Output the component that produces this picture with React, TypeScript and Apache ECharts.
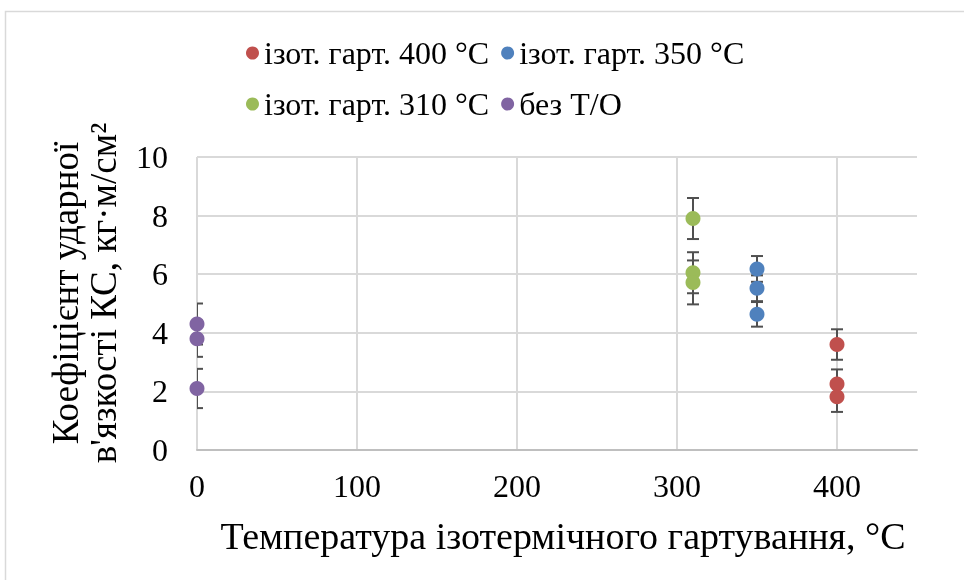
import React, { useEffect, useRef } from 'react';
import * as echarts from 'echarts';

// Series labels and the quench temperature each group was tested at
const seriesNames = ['ізот. гарт. 400 °C', 'ізот. гарт. 350 °C', 'ізот. гарт. 310 °C', 'без Т/О'];
const seriesTemps = [400, 350, 310, 0];
const seriesColors = ['#C0504D', '#4F81BD', '#9BBB59', '#8064A2'];

// Impact toughness KC, кг·м/см², and its error (±) for each specimen
const kc400 = [3.6, 2.25, 1.82];
const err400 = [0.52, 0.5, 0.52];
const kc350 = [6.18, 5.52, 4.63];
const err350 = [0.44, 0.44, 0.42];
const kc310 = [7.9, 6.05, 5.72];
const err310 = [0.7, 0.7, 0.75];
const kcRaw = [4.3, 3.8, 2.1];
const errRaw = [0.7, 0.62, 0.67];

const kcValues = [kc400, kc350, kc310, kcRaw];
const kcErrors = [err400, err350, err310, errRaw];

const xTitle = 'Температура ізотермічного гартування, °C';
const yTitle = 'Коефіцієнт ударної\nв\'язкості КС, кг·м/см²';

const FONT = 'Liberation Serif';

export default function App() {
  const ref = useRef<HTMLDivElement>(null);

  useEffect(() => {
    if (!ref.current) return;
    document.body.style.margin = '0';
    const chart = echarts.init(ref.current, null, { renderer: 'svg' });

    const scatterSeries = seriesNames.map((name, i) => ({
      type: 'scatter',
      name,
      z: 3,
      symbol: 'circle',
      symbolSize: 15,
      itemStyle: { color: seriesColors[i], opacity: 1 },
      data: kcValues[i].map((v) => [seriesTemps[i], v]),
    }));

    const errorData: number[][] = [];
    seriesNames.forEach((_, i) => {
      kcValues[i].forEach((v, j) => {
        errorData.push([seriesTemps[i], v - kcErrors[i][j], v + kcErrors[i][j]]);
      });
    });

    const errorSeries = {
      type: 'custom',
      name: 'errors',
      z: 2,
      clip: true,
      silent: true,
      data: errorData,
      encode: { x: 0, y: [1, 2] },
      renderItem: (params: any, api: any) => {
        const x = api.value(0);
        const lo = api.coord([x, api.value(1)]);
        const hi = api.coord([x, api.value(2)]);
        const half = 6;
        const style = { stroke: '#505050', lineWidth: 2 };
        const cs = params.coordSys;
        return {
          type: 'group',
          clipPath: { type: 'rect', shape: { x: cs.x, y: cs.y, width: cs.width, height: cs.height } },
          children: [
            { type: 'line', shape: { x1: lo[0], y1: lo[1], x2: hi[0], y2: hi[1] }, style },
            { type: 'line', shape: { x1: hi[0] - half, y1: hi[1], x2: hi[0] + half, y2: hi[1] }, style },
            { type: 'line', shape: { x1: lo[0] - half, y1: lo[1], x2: lo[0] + half, y2: lo[1] }, style },
          ],
        };
      },
    };

    const legendCommon = {
      left: 241,
      icon: 'circle',
      itemWidth: 13,
      itemHeight: 13,
      itemGap: 12,
      selectedMode: false,
      textStyle: { fontFamily: FONT, fontSize: 32, color: '#000' },
    };

    chart.setOption({
      animation: false,
      textStyle: { fontFamily: FONT },
      legend: [
        { ...legendCommon, top: 32, data: [seriesNames[0], seriesNames[1]] },
        { ...legendCommon, top: 83, data: [seriesNames[2], seriesNames[3]] },
      ],
      grid: { left: 197, right: 47, top: 157, bottom: 130 },
      xAxis: {
        type: 'value',
        min: 0,
        max: 450,
        interval: 100,
        axisLine: { show: true, onZero: false, lineStyle: { color: '#bfbfbf', width: 2 } },
        axisTick: { show: false },
        axisLabel: {
          fontFamily: FONT,
          fontSize: 32,
          color: '#000',
          margin: 20,
          showMaxLabel: false,
        },
        splitLine: { show: true, showMaxLine: false, lineStyle: { color: '#d9d9d9', width: 2 } },
      },
      yAxis: {
        type: 'value',
        min: 0,
        max: 10,
        interval: 2,
        axisLine: { show: false },
        axisTick: { show: false },
        axisLabel: { fontFamily: FONT, fontSize: 32, color: '#000', margin: 29 },
        splitLine: { show: true, lineStyle: { color: '#d9d9d9', width: 2 } },
      },
      graphic: [
        {
          type: 'rect',
          silent: true,
          shape: { x: 5.5, y: 11.5, width: 1000, height: 600 },
          style: { fill: 'none', stroke: '#d9d9d9', lineWidth: 1.5 },
        },
        {
          type: 'text',
          x: 563,
          y: 536,
          style: {
            text: xTitle,
            font: '38px "Liberation Serif"',
            fill: '#000',
            align: 'center',
            verticalAlign: 'middle',
          },
        },
        {
          type: 'text',
          x: 84,
          y: 293,
          rotation: Math.PI / 2,
          style: {
            text: yTitle,
            font: '37px "Liberation Serif"',
            lineHeight: 38,
            fill: '#000',
            align: 'center',
            verticalAlign: 'middle',
          },
        },
      ],
      series: [errorSeries, ...scatterSeries],
    });

    return () => chart.dispose();
  }, []);

  return (
    <div
      ref={ref}
      style={{ position: 'fixed', left: 0, top: 0, width: 964, height: 580 }}
    />
  );
}
